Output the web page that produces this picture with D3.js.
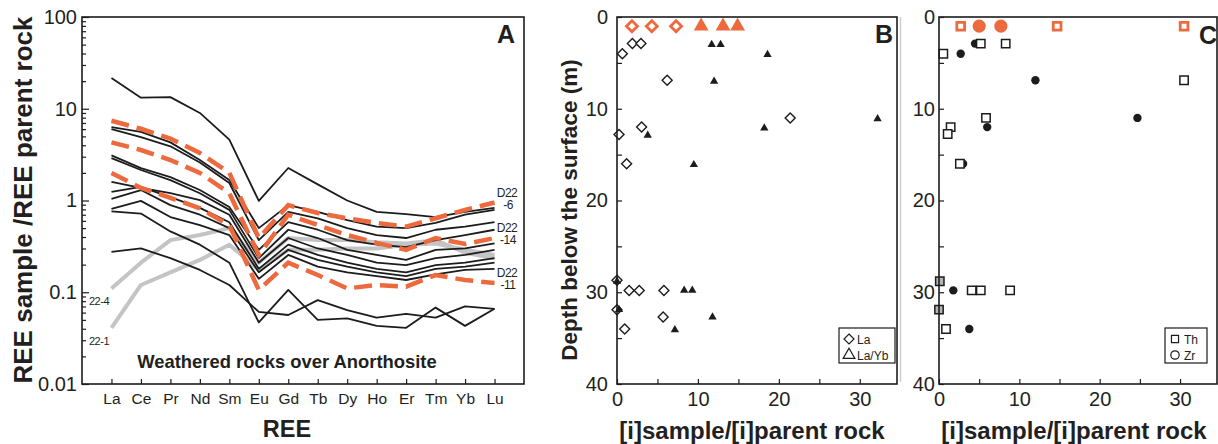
<!DOCTYPE html>
<html>
<head>
<meta charset="utf-8">
<script src="https://cdn.jsdelivr.net/npm/d3@7"></script>
<style>
  body { margin: 0; background: #fff; }
  svg { display: block; }
  text { font-family: "Liberation Sans", Arial, Helvetica, sans-serif; fill: #231f20; }
</style>
</head>
<body>
<svg id="fig" width="1218" height="444"></svg>
<script>
// ---------- Panel A: normalised REE patterns ----------
const reeLabels = ["La","Ce","Pr","Nd","Sm","Eu","Gd","Tb","Dy","Ho","Er","Tm","Yb","Lu"];
const yTicksA = [0.01, 0.1, 1, 10, 100];

// weathered profile samples (solid black)
const bulkSamples = [
  [21.6, 13.2, 13.4, 9.0, 4.6, 0.99, 2.26, 1.5, 1.0, 0.75, 0.71, 0.66, 0.75, 0.83],
  [6.3, 5.6, 4.3, 2.76, 1.67, 0.5, 0.89, 0.75, 0.61, 0.52, 0.5, 0.57, 0.70, 0.79],
  [6.0, 4.9, 3.9, 2.6, 1.55, 0.37, 0.75, 0.64, 0.5, 0.42, 0.39, 0.48, 0.52, 0.58],
  [3.1, 2.25, 1.8, 1.3, 0.85, 0.29, 0.58, 0.48, 0.37, 0.33, 0.31, 0.37, 0.42, 0.48],
  [2.9, 2.15, 1.67, 1.2, 0.79, 0.235, 0.48, 0.39, 0.29, 0.255, 0.225, 0.29, 0.30, 0.34],
  [1.6, 1.37, 1.2, 1.01, 0.70, 0.21, 0.39, 0.30, 0.255, 0.21, 0.198, 0.235, 0.255, 0.29],
  [1.24, 1.41, 1.09, 0.83, 0.58, 0.18, 0.33, 0.255, 0.21, 0.18, 0.165, 0.198, 0.21, 0.235],
  [1.04, 1.3, 0.89, 0.70, 0.50, 0.165, 0.29, 0.225, 0.19, 0.165, 0.15, 0.18, 0.19, 0.21],
  [0.81, 0.99, 0.66, 0.54, 0.42, 0.14, 0.255, 0.19, 0.165, 0.15, 0.136, 0.157, 0.175, 0.18],
  [0.275, 0.30, 0.235, 0.175, 0.12, 0.061, 0.0565, 0.082, 0.064, 0.053, 0.058, 0.053, 0.07, 0.066],
  [0.76, 0.72, 0.46, 0.33, 0.21, 0.047, 0.106, 0.05, 0.052, 0.043, 0.041, 0.068, 0.043, 0.066]
];

// highlighted D22 samples (orange dashed)
const dashedNames = ["D22-6", "D22-14", "D22-11"];
const dashedSamples = [
  [7.4, 6.05, 4.72, 3.3, 2.0, 0.39, 0.89, 0.73, 0.64, 0.57, 0.52, 0.64, 0.79, 0.95],
  [4.3, 3.55, 2.76, 2.0, 1.2, 0.255, 0.70, 0.54, 0.42, 0.345, 0.29, 0.39, 0.335, 0.39],
  [2.0, 1.37, 1.07, 0.82, 0.54, 0.106, 0.21, 0.154, 0.11, 0.12, 0.115, 0.154, 0.136, 0.126]
];

// LREE-depleted samples (grey)
const greyNames = ["22-4", "22-1"];
const greySamples = [
  [0.11, 0.21, 0.37, 0.42, 0.5, 0.21, 0.39, 0.37, 0.37, 0.35, 0.34, 0.37, 0.27, 0.235],
  [0.041, 0.12, 0.165, 0.225, 0.33, 0.175, 0.29, 0.29, 0.30, 0.30, 0.33, 0.34, 0.29, 0.255]
];

// ---------- Panel B: La and La/Yb vs depth ----------
const laSurface   = [[1.85, 1], [4.3, 1], [7.3, 1]];
const laYbSurface = [[10.4, 1], [13.1, 1], [14.9, 1]];
const laPoints = [[0.66,4.0],[1.9,2.9],[2.96,2.9],[6.2,6.9],[0.25,12.8],[3.04,12.0],[1.19,16.0],
  [21.4,11.0],[0,28.7],[1.5,29.8],[2.75,29.8],[5.8,29.8],[0,31.9],[5.7,32.7],[0.95,34.0]];
const laYbPoints = [[11.7,3.0],[12.8,3.0],[12.0,7.0],[3.8,12.9],[9.5,16.1],[18.6,4.1],[18.2,12.1],
  [32.2,11.1],[0,28.8],[0.25,31.9],[8.3,29.8],[9.3,29.8],[11.8,32.7],[7.15,34.1]];

// ---------- Panel C: Th and Zr vs depth ----------
const thSurface = [[2.7, 1], [14.7, 1], [30.5, 1]];
const zrSurface = [[5.0, 1], [7.7, 1]];
const thPoints = [[0.54,4.0],[5.2,2.9],[8.3,2.9],[5.85,11.0],[1.45,12.0],[1.08,12.75],[2.6,16.0],
  [30.5,6.9],[4.07,29.8],[5.2,29.8],[8.85,29.8],[0.87,34.0]];
const thZrOverlap = [[0.1, 28.8], [0, 31.9]];
const zrPoints = [[2.7,4.0],[4.48,2.9],[6.0,12.0],[12.0,6.9],[3.0,16.0],[24.7,11.0],[1.78,29.8],[3.77,34.0]];

const depthTicks = [0, 10, 20, 30, 40];
const ratioTicks = [0, 10, 20, 30];

// ---------- styling ----------
const ORANGE = "#ec6a3d";
const GREY = "#c4c4c4";
const INK = "#1c1c1c";

const svg = d3.select("#fig");

function frame(b) {
  svg.append("rect")
    .attr("x", b.l).attr("y", b.t)
    .attr("width", b.r - b.l).attr("height", b.b - b.t)
    .attr("fill", "none").attr("stroke", INK).attr("stroke-width", 1.6);
}
function styleAxis(g, fontSize) {
  g.select(".domain").remove();
  g.selectAll(".tick line").attr("stroke", INK).attr("stroke-width", 1.2);
  g.selectAll(".tick text").attr("fill", "#231f20")
    .style("font-size", fontSize + "px")
    .style("font-family", '"Liberation Sans", Arial, sans-serif');
}

// ================= Panel A =================
const A = { l: 82, r: 524, t: 17, b: 384 };
const xA = d3.scaleLinear().domain([-1, 14]).range([A.l, A.r]);
const yA = d3.scaleLog().domain([0.01, 100]).range([A.b, A.t]);

// minor log ticks
const minorA = [];
[0.01, 0.1, 1, 10].forEach(dec => { for (let m = 2; m <= 9; m++) minorA.push(dec * m); });
svg.append("g").attr("transform", `translate(${A.l},0)`)
  .call(d3.axisLeft(yA).tickValues(minorA).tickSize(-4).tickFormat(""))
  .call(g => styleAxis(g, 10));
svg.append("g").attr("transform", `translate(${A.l},0)`)
  .call(d3.axisLeft(yA).tickValues(yTicksA).tickSize(-7).tickPadding(5).tickFormat(d => String(d)))
  .call(g => styleAxis(g, 20));
svg.append("g").attr("transform", `translate(0,${A.b})`)
  .call(d3.axisBottom(xA).tickValues(d3.range(reeLabels.length)).tickSize(-5).tickPadding(9)
    .tickFormat(i => reeLabels[i]))
  .call(g => styleAxis(g, 15.5));

const lineA = d3.line().x((d, i) => xA(i)).y(d => yA(d));

svg.append("g").selectAll("path").data(greySamples).join("path")
  .attr("d", lineA).attr("fill", "none").attr("stroke", GREY)
  .attr("stroke-width", 4).attr("stroke-linejoin", "round");
svg.append("g").selectAll("path").data(bulkSamples).join("path")
  .attr("d", lineA).attr("fill", "none").attr("stroke", INK)
  .attr("stroke-width", 1.8).attr("stroke-linejoin", "round");
svg.append("g").selectAll("path").data(dashedSamples).join("path")
  .attr("d", lineA).attr("fill", "none").attr("stroke", ORANGE)
  .attr("stroke-width", 4.5).attr("stroke-dasharray", "18,8");

frame(A);

// end labels for the dashed samples
const lastI = reeLabels.length - 1;
dashedSamples.forEach((s, k) => {
  const [pre, num] = dashedNames[k].split("-");
  const y0 = yA(s[lastI]);
  const t = svg.append("text").attr("x", 507).attr("text-anchor", "middle")
    .style("font-size", "12px").style("letter-spacing", "-0.5px");
  t.append("tspan").attr("x", 507).attr("y", y0 - 6).text(pre);
  t.append("tspan").attr("x", 508).attr("y", y0 + 6).text("-" + num);
});
// start labels for grey samples
greySamples.forEach((s, k) => {
  svg.append("text").attr("x", 99).attr("y", yA(s[0]) + 17)
    .attr("text-anchor", "middle").style("font-size", "11px").style("letter-spacing", "-0.5px")
    .text(greyNames[k]);
});

svg.append("text").attr("x", 287).attr("y", 368).attr("text-anchor", "middle")
  .style("font-size", "18.4px").style("font-weight", "bold").text("Weathered rocks over Anorthosite");
svg.append("text").attr("x", 515).attr("y", 43).attr("text-anchor", "end")
  .style("font-size", "25px").style("font-weight", "bold").text("A");
svg.append("text").attr("x", 287).attr("y", 437).attr("text-anchor", "middle")
  .style("font-size", "23.5px").style("font-weight", "bold").text("REE");
svg.append("text").attr("transform", "translate(32,200) rotate(-90)").attr("text-anchor", "middle")
  .style("font-size", "26px").style("font-weight", "bold").text("REE sample /REE parent rock");

// ================= Panels B & C =================
function depthPanel(b, labelPad) {
  const x = d3.scaleLinear().domain([0, 34.6]).range([b.l, b.r]);
  const y = d3.scaleLinear().domain([0, 40]).range([b.t, b.b]);
  svg.append("g").attr("transform", `translate(${b.l},0)`)
    .call(d3.axisLeft(y).tickValues(d3.range(0, 41, 5)).tickSize(-5).tickPadding(labelPad)
      .tickFormat(d => depthTicks.includes(d) ? d : ""))
    .call(g => styleAxis(g, 20));
  svg.append("g").attr("transform", `translate(0,${b.b})`)
    .call(d3.axisBottom(x).tickValues(d3.range(0, 35, 5)).tickSize(-5).tickPadding(8)
      .tickFormat(d => ratioTicks.includes(d) ? d : ""))
    .call(g => styleAxis(g, 20));
  svg.append("text").attr("x", b.l + 135).attr("y", 439).attr("text-anchor", "middle")
    .style("font-size", "24px").style("font-weight", "bold").text("[i]sample/[i]parent rock");
  return { x, y };
}
const diamond = r => `M0,${-r}L${r},0L0,${r}L${-r},0Z`;
const tri = s => d3.symbol(d3.symbolTriangle, s)();
const sq = s => d3.symbol(d3.symbolSquare, s)();
const circ = s => d3.symbol(d3.symbolCircle, s)();

function plotMarks(sc, data, pathStr, fill, stroke, sw) {
  svg.append("g").selectAll("path").data(data).join("path")
    .attr("transform", d => `translate(${sc.x(d[0])},${sc.y(d[1])})`)
    .attr("d", pathStr).attr("fill", fill).attr("stroke", stroke).attr("stroke-width", sw);
}

// ---- B ----
const B = { l: 617, r: 897, t: 17, b: 384 };
const sB = depthPanel(B, 9);
plotMarks(sB, laPoints, diamond(5), "#fff", INK, 1.4);
plotMarks(sB, laYbPoints, tri(30), INK, "none", 0);
plotMarks(sB, laSurface, diamond(5.5), "#fff", ORANGE, 2.8);
plotMarks(sB, laYbSurface, tri(95), ORANGE, "none", 0);
frame(B);
svg.append("text").attr("x", 893).attr("y", 43).attr("text-anchor", "end")
  .style("font-size", "25px").style("font-weight", "bold").text("B");
svg.append("text").attr("transform", "translate(577,210) rotate(-90)").attr("text-anchor", "middle")
  .style("font-size", "22.5px").style("font-weight", "bold").text("Depth below the surface (m)");

// legend B
const legB = svg.append("g").attr("transform", "translate(839,328)");
legB.append("rect").attr("width", 56).attr("height", 35).attr("fill", "#fff").attr("stroke", INK).attr("stroke-width", 1.2);
legB.append("path").attr("transform", "translate(10,11)").attr("d", diamond(5)).attr("fill", "#fff").attr("stroke", INK).attr("stroke-width", 1.2);
legB.append("text").attr("x", 18).attr("y", 15.5).style("font-size", "12px").text("La");
legB.append("path").attr("transform", "translate(10,27)").attr("d", tri(60)).attr("fill", "#fff").attr("stroke", INK).attr("stroke-width", 1.2);
legB.append("text").attr("x", 18).attr("y", 31.5).style("font-size", "12px").text("La/Yb");

// separator between panels
svg.append("line").attr("x1", 900.5).attr("x2", 900.5).attr("y1", 17).attr("y2", 382)
  .attr("stroke", "#cfcfcf").attr("stroke-width", 1.5);

// ---- C ----
const C = { l: 939, r: 1217, t: 17, b: 384 };
const sC = depthPanel(C, 4);
plotMarks(sC, zrPoints, circ(55), INK, "none", 0);
plotMarks(sC, thPoints, sq(70), "#fff", INK, 1.5);
plotMarks(sC, thZrOverlap, sq(70), "#b5b5b5", INK, 1.5);
plotMarks(sC, zrSurface, circ(135), ORANGE, "none", 0);
plotMarks(sC, thSurface, sq(60), "#fff", ORANGE, 2.8);
frame(C);
svg.append("text").attr("x", 1217).attr("y", 44).attr("text-anchor", "end")
  .style("font-size", "25px").style("font-weight", "bold").text("C");

// legend C
const legC = svg.append("g").attr("transform", "translate(1165,328)");
legC.append("rect").attr("width", 42).attr("height", 35).attr("fill", "#fff").attr("stroke", INK).attr("stroke-width", 1.2);
legC.append("path").attr("transform", "translate(10,11)").attr("d", sq(50)).attr("fill", "#fff").attr("stroke", INK).attr("stroke-width", 1.2);
legC.append("text").attr("x", 19).attr("y", 15.5).style("font-size", "12px").text("Th");
legC.append("path").attr("transform", "translate(10,27)").attr("d", circ(55)).attr("fill", "#fff").attr("stroke", INK).attr("stroke-width", 1.2);
legC.append("text").attr("x", 19).attr("y", 31.5).style("font-size", "12px").text("Zr");
</script>
</body>
</html>
